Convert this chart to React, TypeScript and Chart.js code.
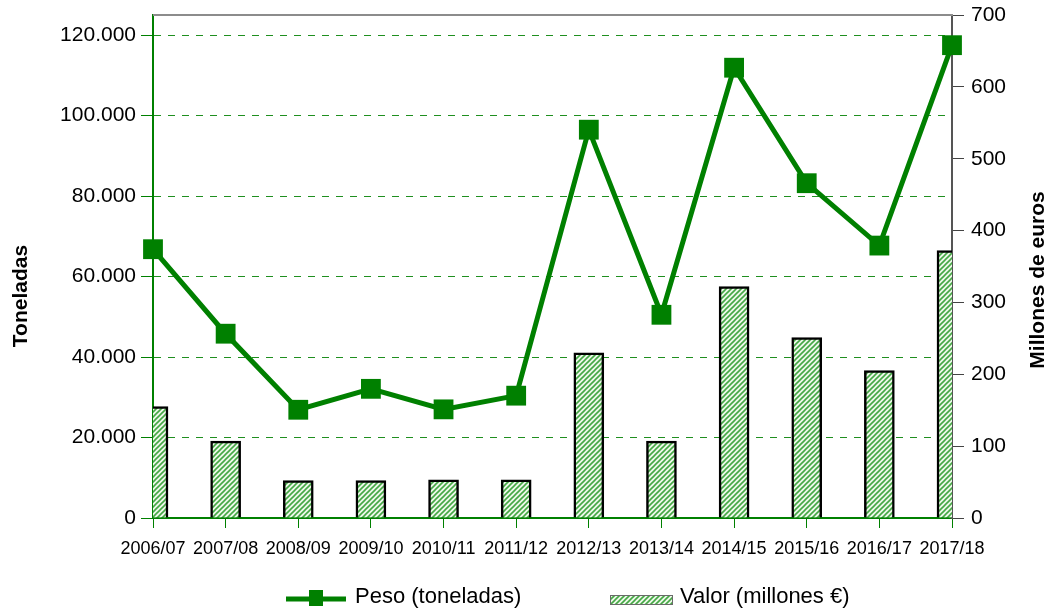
import React, { useEffect, useRef } from "react";
import { Chart, registerables } from "chart.js";

Chart.register(...registerables);

const categories = ["2006/07", "2007/08", "2008/09", "2009/10", "2010/11", "2011/12", "2012/13", "2013/14", "2014/15", "2015/16", "2016/17", "2017/18"];
const pesoToneladas = [66800, 45800, 26900, 32100, 27000, 30400, 96500, 50500, 111900, 83200, 67700, 117500];
const valorMillones = [155, 107, 52, 52, 53, 53, 230, 107, 322, 251, 205, 372];
const leftTicks = [0, 20000, 40000, 60000, 80000, 100000, 120000];
const leftMax = 125000;
const rightTicks = [0, 100, 200, 300, 400, 500, 600, 700];
const rightMax = 700;

const FONT = '"Liberation Sans", Arial, sans-serif';
const GREEN = "#008000";

function fmt(v: number): string {
  return String(Math.round(v)).replace(/\B(?=(\d{3})+(?!\d))/g, ".");
}

function makePattern(ctx: CanvasRenderingContext2D): CanvasPattern | string {
  const s = 5;
  const c = document.createElement("canvas");
  c.width = s;
  c.height = s;
  const p = c.getContext("2d");
  if (!p) return "#cfe8c8";
  p.fillStyle = "#eef8ea";
  p.fillRect(0, 0, s, s);
  p.strokeStyle = "#45a845";
  p.lineWidth = 1.6;
  p.beginPath();
  p.moveTo(0, s);
  p.lineTo(s, 0);
  p.moveTo(-s / 2, s / 2);
  p.lineTo(s / 2, -s / 2);
  p.moveTo(s / 2, s * 1.5);
  p.lineTo(s * 1.5, s / 2);
  p.stroke();
  return ctx.createPattern(c, "repeat") || "#cfe8c8";
}

const decorPlugin = {
  id: "decor",
  afterDraw(chart: any) {
    const { ctx, chartArea } = chart;
    ctx.save();
    // top border
    ctx.strokeStyle = "#8c8c8c";
    ctx.lineWidth = 2;
    ctx.beginPath();
    ctx.moveTo(chartArea.left, chartArea.top);
    ctx.lineTo(chartArea.right + 1, chartArea.top);
    ctx.stroke();

    // axis titles
    ctx.fillStyle = "#000";
    ctx.font = `bold 21px ${FONT}`;
    ctx.textAlign = "center";
    ctx.textBaseline = "middle";
    ctx.save();
    ctx.translate(21, 296);
    ctx.rotate(-Math.PI / 2);
    ctx.fillText("Toneladas", 0, 0);
    ctx.restore();
    ctx.save();
    ctx.translate(1038, 280);
    ctx.rotate(-Math.PI / 2);
    ctx.fillText("Millones de euros", 0, 0);
    ctx.restore();

    // legend
    const ty = 597;
    ctx.strokeStyle = GREEN;
    ctx.lineWidth = 5;
    ctx.beginPath();
    ctx.moveTo(286, 599);
    ctx.lineTo(346, 599);
    ctx.stroke();
    ctx.fillStyle = GREEN;
    ctx.fillRect(309, 590, 14, 16);
    ctx.fillStyle = "#000";
    ctx.font = `22px ${FONT}`;
    ctx.textAlign = "left";
    ctx.textBaseline = "middle";
    ctx.fillText("Peso (toneladas)", 355, ty);

    ctx.fillStyle = makePattern(ctx);
    ctx.fillRect(610, 595, 63, 10);
    ctx.strokeStyle = "#6a6a6a";
    ctx.lineWidth = 1;
    ctx.strokeRect(610.5, 595.5, 62, 9);
    ctx.fillStyle = "#000";
    ctx.fillText("Valor (millones €)", 680, ty);
    ctx.restore();
  },
};

export default function App() {
  const ref = useRef<HTMLCanvasElement | null>(null);

  useEffect(() => {
    document.body.style.margin = "0";
    const canvas = ref.current;
    if (!canvas) return;
    const ctx = canvas.getContext("2d");
    if (!ctx) return;
    const pattern = makePattern(ctx);

    const chart = new Chart(ctx, {
      type: "bar",
      data: {
        labels: categories,
        datasets: [
          {
            type: "line",
            label: "Peso (toneladas)",
            data: pesoToneladas,
            yAxisID: "y",
            borderColor: GREEN,
            backgroundColor: GREEN,
            borderWidth: 5,
            pointStyle: "rect",
            pointRadius: 14,
            pointBorderWidth: 0,
            pointBackgroundColor: GREEN,
            tension: 0,
            order: 0,
            clip: false as any,
          },
          {
            type: "bar",
            label: "Valor (millones €)",
            data: valorMillones,
            yAxisID: "y1",
            backgroundColor: pattern as any,
            borderColor: "#000",
            borderWidth: 2.5,
            barThickness: 30,
            order: 1,
          },
        ],
      },
      options: {
        responsive: false,
        animation: false,
        layout: { padding: { top: 15, left: 0, right: 0, bottom: 0 } },
        plugins: {
          legend: { display: false },
          tooltip: { enabled: false },
        },
        scales: {
          x: {
            offset: false,
            grid: {
              offset: false,
              drawOnChartArea: false,
              drawTicks: true,
              tickLength: 10,
              color: GREEN,
              tickColor: GREEN,
            },
            border: { color: GREEN, width: 2 },
            ticks: {
              color: "#000",
              font: { family: FONT, size: 18 },
              padding: 10,
              maxRotation: 0,
              autoSkip: false,
            },
            afterFit(scale: any) {
              scale.height = 92;
              scale.paddingLeft = 0;
              scale.paddingRight = 0;
            },
          },
          y: {
            position: "left",
            min: 0,
            max: leftMax,
            border: { color: GREEN, width: 2, dash: [7, 7] },
            grid: {
              color: "#1f8f1f",
              lineWidth: 1,
              tickLength: 12,
              tickColor: GREEN,
            },
            ticks: {
              color: "#000",
              font: { family: FONT, size: 21 },
              padding: 5,
              callback: (v: any) => fmt(Number(v)),
            },
            afterBuildTicks(scale: any) {
              scale.ticks = leftTicks.map((v) => ({ value: v }));
            },
            afterFit(scale: any) {
              scale.width = 153;
              scale.paddingTop = 0;
              scale.paddingBottom = 0;
            },
          } as any,
          y1: {
            position: "right",
            min: 0,
            max: rightMax,
            border: { color: "#555", width: 2 },
            grid: {
              drawOnChartArea: false,
              tickLength: 12,
              tickColor: "#444",
            },
            ticks: {
              color: "#000",
              font: { family: FONT, size: 21 },
              padding: 7,
            },
            afterBuildTicks(scale: any) {
              scale.ticks = rightTicks.map((v) => ({ value: v }));
            },
            afterFit(scale: any) {
              scale.width = 97;
              scale.paddingTop = 0;
              scale.paddingBottom = 0;
            },
          } as any,
        },
      },
      plugins: [decorPlugin],
    });

    return () => chart.destroy();
  }, []);

  return (
    <div style={{ width: 1049, height: 610 }}>
      <canvas ref={ref} width={1049} height={610} style={{ display: "block" }} />
    </div>
  );
}
